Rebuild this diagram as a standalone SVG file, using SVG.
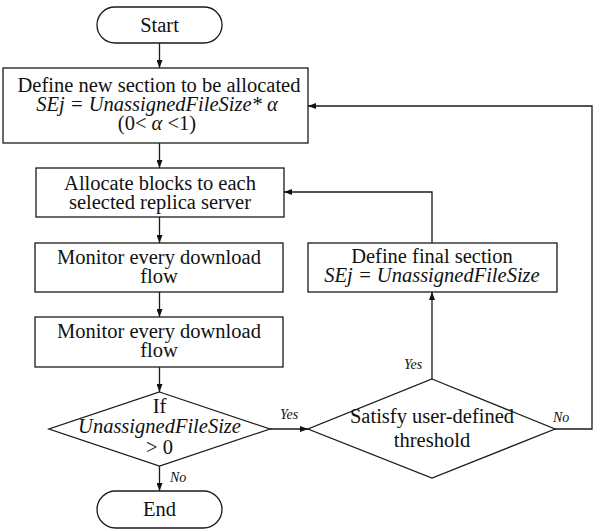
<svg xmlns="http://www.w3.org/2000/svg" width="593" height="529" viewBox="0 0 593 529">
<style>
.s{fill:#fff;stroke:#1a1a1a;stroke-width:1.3}
.t{font-size:20.5px;fill:#111;text-anchor:middle}
.i{font-style:italic}
.l{font-size:14px;font-style:italic;fill:#111}
.c{fill:none;stroke:#1a1a1a;stroke-width:1.3}
</style>
<defs>
<marker id="a" viewBox="0 0 8 6" refX="8" refY="3" markerWidth="8" markerHeight="6" markerUnits="userSpaceOnUse" orient="auto">
<path d="M0,0 L8,3 L0,6 z" fill="#111"/>
</marker>
</defs>
<rect width="593" height="529" fill="#fff"/>
<g font-family="'Liberation Serif', 'Times New Roman', serif">
<g id="connectors">
<line class="c" x1="159.5" y1="43" x2="159.5" y2="68" marker-end="url(#a)"/>
<line class="c" x1="159.5" y1="143" x2="159.5" y2="168" marker-end="url(#a)"/>
<line class="c" x1="159.5" y1="217" x2="159.5" y2="243" marker-end="url(#a)"/>
<line class="c" x1="159.5" y1="292" x2="159.5" y2="317" marker-end="url(#a)"/>
<line class="c" x1="159.5" y1="367" x2="159.5" y2="392" marker-end="url(#a)"/>
<line class="c" x1="159.5" y1="466" x2="159.5" y2="491" marker-end="url(#a)"/>
<line class="c" x1="270" y1="429" x2="308" y2="429" marker-end="url(#a)"/>
<line class="c" x1="432" y1="379" x2="432" y2="292" marker-end="url(#a)"/>
<polyline class="c" points="432,243 432,192 284,192" marker-end="url(#a)"/>
<polyline class="c" points="555,429 592,429 592,106 308,106" marker-end="url(#a)"/>
<text class="l" x="280" y="419">Yes</text>
<text class="l" x="404" y="369">Yes</text>
<text class="l" x="553" y="422">No</text>
<text class="l" x="170" y="482">No</text>
</g>
<g id="start">
<rect class="s" x="97" y="7" width="125" height="36" rx="18" ry="18"/>
<text class="t" x="159.5" y="32">Start</text>
</g>
<g id="define-new">
<rect class="s" x="3" y="68" width="305" height="75"/>
<text class="t" x="159" y="92">Define new section to be allocated</text>
<text class="t i" x="157" y="111">SEj = UnassignedFileSize* α</text>
<text class="t" x="157" y="130">(0&lt; <tspan class="i">α</tspan> &lt;1)</text>
</g>
<g id="allocate">
<rect class="s" x="36" y="168" width="248" height="49"/>
<text class="t" x="160" y="189.5">Allocate blocks to each</text>
<text class="t" x="160" y="208.5">selected replica server</text>
</g>
<g id="monitor1">
<rect class="s" x="35" y="243" width="248" height="49"/>
<text class="t" x="159" y="263.5">Monitor every download</text>
<text class="t" x="159" y="282.5">flow</text>
</g>
<g id="monitor2">
<rect class="s" x="35" y="317" width="248" height="50"/>
<text class="t" x="159" y="338">Monitor every download</text>
<text class="t" x="159" y="357">flow</text>
</g>
<g id="if">
<polygon class="s" points="159.5,392 270,429 159.5,466 49,429"/>
<text class="t" x="159.5" y="412.5">If</text>
<text class="t i" x="159.5" y="433">UnassignedFileSize</text>
<text class="t" x="159.5" y="453.5">&gt; 0</text>
</g>
<g id="end">
<rect class="s" x="97" y="491" width="125" height="37" rx="18.5" ry="18.5"/>
<text class="t" x="159.5" y="516">End</text>
</g>
<g id="satisfy">
<polygon class="s" points="432,379 555,429 432,478 308,429"/>
<text class="t" x="432" y="423">Satisfy user-defined</text>
<text class="t" x="432" y="447">threshold</text>
</g>
<g id="define-final">
<rect class="s" x="308" y="243" width="249" height="49"/>
<text class="t" x="432" y="263">Define final section</text>
<text class="t i" x="432" y="282">SEj = UnassignedFileSize</text>
</g>
</g>
</svg>
